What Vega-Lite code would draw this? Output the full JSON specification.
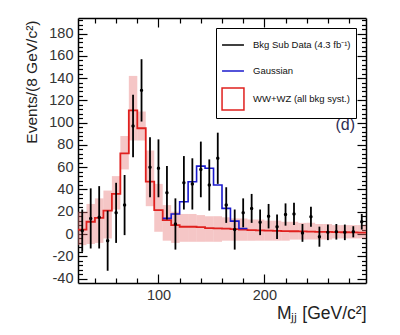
{
  "$schema": "https://vega.github.io/schema/vega-lite/v6.json",
  "width": 288,
  "height": 265,
  "autosize": {"type": "none"},
  "padding": {"left": 78, "top": 18, "right": 34, "bottom": 52},
  "background": "white",
  "config": {
    "view": {"stroke": null},
    "font": "Liberation Sans",
    "axis": {
      "grid": false,
      "domainColor": "black",
      "domainWidth": 1.5,
      "tickColor": "black",
      "tickWidth": 1.2,
      "labelFont": "Liberation Sans",
      "labelFontSize": 14.5,
      "labelColor": "#333333",
      "titleFont": "Liberation Sans",
      "titleFontWeight": "normal",
      "titleColor": "#222222"
    }
  },
  "datasets": {
    "pts": [
      {"x": 28, "y": 3, "lo": -16, "hi": 22},
      {"x": 36, "y": 14, "lo": -13, "hi": 41},
      {"x": 44, "y": 15, "lo": -13, "hi": 43},
      {"x": 52, "y": -6, "lo": -33, "hi": 21},
      {"x": 60, "y": 19, "lo": -8, "hi": 46},
      {"x": 68, "y": 26, "lo": -1, "hi": 53},
      {"x": 76, "y": 97, "lo": 69, "hi": 125},
      {"x": 84, "y": 129, "lo": 101, "hi": 157},
      {"x": 92, "y": 60, "lo": 33, "hi": 87},
      {"x": 100, "y": 59, "lo": 33, "hi": 85},
      {"x": 108, "y": 37, "lo": 13, "hi": 61},
      {"x": 116, "y": 9, "lo": -14, "hi": 32},
      {"x": 124, "y": 46, "lo": 22, "hi": 70},
      {"x": 132, "y": 45, "lo": 22, "hi": 68},
      {"x": 140, "y": 58, "lo": 33, "hi": 83},
      {"x": 148, "y": 44, "lo": 21, "hi": 67},
      {"x": 156, "y": 68, "lo": 45, "hi": 91},
      {"x": 164, "y": 26, "lo": 10, "hi": 42},
      {"x": 172, "y": 4, "lo": -14, "hi": 22},
      {"x": 180, "y": 19, "lo": 6, "hi": 32},
      {"x": 188, "y": 23, "lo": 10, "hi": 36},
      {"x": 196, "y": 10.5, "lo": -1, "hi": 22},
      {"x": 204, "y": 16, "lo": 5, "hi": 27},
      {"x": 212, "y": 6.5, "lo": -4.5, "hi": 17.5},
      {"x": 220, "y": 17.5, "lo": 7.5, "hi": 27.5},
      {"x": 228, "y": 18, "lo": 8, "hi": 28},
      {"x": 236, "y": 1, "lo": -7, "hi": 9},
      {"x": 244, "y": 15.5, "lo": 6.5, "hi": 24.5},
      {"x": 252, "y": -2.4, "lo": -11.4, "hi": 6.6},
      {"x": 260, "y": 1.5, "lo": -5.5, "hi": 8.5},
      {"x": 268, "y": 2, "lo": -5, "hi": 9},
      {"x": 276, "y": 1.5, "lo": -5.5, "hi": 8.5},
      {"x": 284, "y": 2, "lo": -3, "hi": 7},
      {"x": 292, "y": 11, "lo": 4, "hi": 18}
    ],
    "red": [
      {"x": 24, "y": 4}, {"x": 32, "y": 11}, {"x": 40, "y": 14.5}, {"x": 48, "y": 21},
      {"x": 56, "y": 36}, {"x": 64, "y": 72.5}, {"x": 72, "y": 111}, {"x": 80, "y": 95},
      {"x": 88, "y": 47}, {"x": 96, "y": 21.5}, {"x": 104, "y": 12.5}, {"x": 112, "y": 8},
      {"x": 120, "y": 6.5}, {"x": 128, "y": 6.5}, {"x": 136, "y": 6.2}, {"x": 144, "y": 5.2},
      {"x": 152, "y": 5}, {"x": 160, "y": 4.8}, {"x": 168, "y": 4.3}, {"x": 176, "y": 3.9},
      {"x": 184, "y": 3.5}, {"x": 192, "y": 3.2}, {"x": 200, "y": 3}, {"x": 208, "y": 2.8},
      {"x": 216, "y": 2.6}, {"x": 224, "y": 2.5}, {"x": 232, "y": 2.3}, {"x": 240, "y": 2.2},
      {"x": 248, "y": 2}, {"x": 256, "y": 1.9}, {"x": 264, "y": 1.7}, {"x": 272, "y": 1.6},
      {"x": 280, "y": 1.5}, {"x": 288, "y": 1.3}, {"x": 296, "y": 1.3}
    ],
    "band": [
      {"x0": 24, "x1": 32, "lo": -10, "hi": 20, "s": "WW+WZ (all bkg syst.)"},
      {"x0": 32, "x1": 40, "lo": -9, "hi": 27, "s": "WW+WZ (all bkg syst.)"},
      {"x0": 40, "x1": 48, "lo": -8, "hi": 32, "s": "WW+WZ (all bkg syst.)"},
      {"x0": 48, "x1": 56, "lo": -4, "hi": 39, "s": "WW+WZ (all bkg syst.)"},
      {"x0": 56, "x1": 64, "lo": 22, "hi": 52, "s": "WW+WZ (all bkg syst.)"},
      {"x0": 64, "x1": 72, "lo": 58, "hi": 88, "s": "WW+WZ (all bkg syst.)"},
      {"x0": 72, "x1": 80, "lo": 84, "hi": 142, "s": "WW+WZ (all bkg syst.)"},
      {"x0": 80, "x1": 88, "lo": 84, "hi": 110, "s": "WW+WZ (all bkg syst.)"},
      {"x0": 88, "x1": 96, "lo": 25, "hi": 75, "s": "WW+WZ (all bkg syst.)"},
      {"x0": 96, "x1": 104, "lo": 2, "hi": 45, "s": "WW+WZ (all bkg syst.)"},
      {"x0": 104, "x1": 112, "lo": -6, "hi": 26, "s": "WW+WZ (all bkg syst.)"},
      {"x0": 112, "x1": 120, "lo": -8, "hi": 20, "s": "WW+WZ (all bkg syst.)"},
      {"x0": 120, "x1": 128, "lo": -7, "hi": 18, "s": "WW+WZ (all bkg syst.)"},
      {"x0": 128, "x1": 136, "lo": -7, "hi": 18, "s": "WW+WZ (all bkg syst.)"},
      {"x0": 136, "x1": 144, "lo": -7, "hi": 17, "s": "WW+WZ (all bkg syst.)"},
      {"x0": 144, "x1": 152, "lo": -7, "hi": 16, "s": "WW+WZ (all bkg syst.)"},
      {"x0": 152, "x1": 160, "lo": -7, "hi": 16, "s": "WW+WZ (all bkg syst.)"},
      {"x0": 160, "x1": 168, "lo": -6, "hi": 15, "s": "WW+WZ (all bkg syst.)"},
      {"x0": 168, "x1": 176, "lo": -6, "hi": 14, "s": "WW+WZ (all bkg syst.)"},
      {"x0": 176, "x1": 184, "lo": -6, "hi": 14, "s": "WW+WZ (all bkg syst.)"},
      {"x0": 184, "x1": 192, "lo": -6, "hi": 13, "s": "WW+WZ (all bkg syst.)"},
      {"x0": 192, "x1": 200, "lo": -6, "hi": 13, "s": "WW+WZ (all bkg syst.)"},
      {"x0": 200, "x1": 208, "lo": -6, "hi": 12, "s": "WW+WZ (all bkg syst.)"},
      {"x0": 208, "x1": 216, "lo": -6, "hi": 12, "s": "WW+WZ (all bkg syst.)"},
      {"x0": 216, "x1": 224, "lo": -6, "hi": 11, "s": "WW+WZ (all bkg syst.)"},
      {"x0": 224, "x1": 232, "lo": -5, "hi": 11, "s": "WW+WZ (all bkg syst.)"},
      {"x0": 232, "x1": 240, "lo": -5, "hi": 10, "s": "WW+WZ (all bkg syst.)"},
      {"x0": 240, "x1": 248, "lo": -5, "hi": 10, "s": "WW+WZ (all bkg syst.)"},
      {"x0": 248, "x1": 256, "lo": -5, "hi": 9, "s": "WW+WZ (all bkg syst.)"},
      {"x0": 256, "x1": 264, "lo": -5, "hi": 9, "s": "WW+WZ (all bkg syst.)"},
      {"x0": 264, "x1": 272, "lo": -4, "hi": 8, "s": "WW+WZ (all bkg syst.)"},
      {"x0": 272, "x1": 280, "lo": -4, "hi": 8, "s": "WW+WZ (all bkg syst.)"},
      {"x0": 280, "x1": 288, "lo": -4, "hi": 8, "s": "WW+WZ (all bkg syst.)"},
      {"x0": 288, "x1": 296, "lo": -4, "hi": 8, "s": "WW+WZ (all bkg syst.)"}
    ],
    "blue": [
      {"x": 104, "y": 14}, {"x": 112, "y": 18},
      {"x": 120, "y": 29}, {"x": 128, "y": 47},
      {"x": 136, "y": 61}, {"x": 144, "y": 59},
      {"x": 152, "y": 44}, {"x": 160, "y": 23},
      {"x": 168, "y": 11.6}, {"x": 176, "y": 5},
      {"x": 184, "y": 5}
    ],
    "lab": [{"x": 285.6, "y": 97.7, "t": "(d)"}]
  },
  "resolve": {"axis": {"x": "independent", "y": "independent"}},
  "layer": [
    {
      "data": {"name": "band"},
      "mark": {"type": "rect", "opacity": 0.42, "color": "#e87878"},
      "encoding": {
        "x": {
          "field": "x0", "type": "quantitative",
          "scale": {"domain": [24, 296], "nice": false, "zero": false},
          "axis": {
            "orient": "bottom",
            "values": [40, 60, 80, 100, 120, 140, 160, 180, 200, 220, 240, 260, 280],
            "labelExpr": "datum.value % 100 === 0 ? datum.label : ''",
            "tickSize": {"condition": {"test": "datum.value % 100 === 0", "value": -9}, "value": -5},
            "labelPadding": 14,
            "title": "Mⱼⱼ [GeV/c²]",
            "titleFontSize": 17.5,
            "titleAnchor": "end",
            "titleAlign": "right",
            "titleX": 288,
            "titleY": 35,
            "titleBaseline": "alphabetic"
          }
        },
        "x2": {"field": "x1"},
        "y": {
          "field": "lo", "type": "quantitative",
          "scale": {"domain": [-44, 194], "nice": false, "zero": false},
          "axis": {
            "orient": "left",
            "values": [-40, -36, -32, -28, -24, -20, -16, -12, -8, -4, 0, 4, 8, 12, 16, 20, 24, 28, 32, 36, 40, 44, 48, 52, 56, 60, 64, 68, 72, 76, 80, 84, 88, 92, 96, 100, 104, 108, 112, 116, 120, 124, 128, 132, 136, 140, 144, 148, 152, 156, 160, 164, 168, 172, 176, 180, 184, 188, 192],
            "labelExpr": "datum.value % 20 === 0 ? toString(datum.value) : ''",
            "tickSize": {"condition": {"test": "datum.value % 20 === 0", "value": -9}, "value": -4.5},
            "labelPadding": 14,
            "labelFlush": false,
            "labelOverlap": false,
            "title": "Events/(8 GeV/c²)",
            "titleFontSize": 15.5,
            "titleAngle": 270,
            "titleAlign": "right",
            "titleBaseline": "alphabetic",
            "titleX": -42,
            "titleY": 2
          }
        },
        "y2": {"field": "hi"}
      }
    },
    {
      "data": {"name": "red"},
      "mark": {"type": "line", "interpolate": "step-after", "color": "#e0201e", "strokeWidth": 1.8},
      "encoding": {
        "x": {"field": "x", "type": "quantitative", "axis": null},
        "y": {"field": "y", "type": "quantitative", "axis": null}
      }
    },
    {
      "data": {"name": "blue"},
      "mark": {"type": "line", "interpolate": "step-after", "strokeWidth": 1.6, "color": "#1a1acc"},
      "encoding": {
        "x": {"field": "x", "type": "quantitative", "axis": null},
        "y": {"field": "y", "type": "quantitative", "axis": null}
      }
    },
    {
      "data": {"name": "pts"},
      "mark": {"type": "rule", "strokeWidth": 1.8, "color": "black"},
      "encoding": {
        "x": {"field": "x", "type": "quantitative", "axis": null},
        "y": {"field": "lo", "type": "quantitative", "axis": null},
        "y2": {"field": "hi"}
      }
    },
    {
      "data": {"name": "pts"},
      "mark": {"type": "point", "filled": true, "size": 12, "opacity": 1, "color": "black"},
      "encoding": {
        "x": {"field": "x", "type": "quantitative", "axis": null},
        "y": {"field": "y", "type": "quantitative", "axis": null}
      }
    },
    {
      "data": {"name": "band"},
      "mark": {"type": "point", "opacity": 0, "strokeWidth": 1.5},
      "encoding": {
        "x": {"field": "x0", "type": "quantitative", "axis": null},
        "y": {"field": "lo", "type": "quantitative", "axis": null},
        "stroke": {
          "field": "s", "type": "nominal",
          "scale": {
            "domain": ["Bkg Sub Data (4.3 fb⁻¹)", "Gaussian", "WW+WZ (all bkg syst.)"],
            "range": ["#000000", "#1a1acc", "#e0201e"]
          },
          "legend": {
            "orient": "none",
            "legendX": 138,
            "legendY": 10,
            "title": null,
            "strokeColor": "black",
            "fillColor": "white",
            "padding": 5,
            "rowPadding": 9,
            "symbolSize": 480,
            "symbolStrokeWidth": 1.5,
            "symbolOpacity": 1,
            "symbolFillColor": "#f3b0b0",
            "labelFont": "Liberation Sans",
            "labelFontSize": 9.5,
            "labelColor": "#111111",
            "labelOffset": 8
          }
        },
        "shape": {
          "field": "s", "type": "nominal",
          "scale": {
            "domain": ["Bkg Sub Data (4.3 fb⁻¹)", "Gaussian", "WW+WZ (all bkg syst.)"],
            "range": ["stroke", "stroke", "square"]
          }
        }
      }
    },
    {
      "data": {"name": "lab"},
      "mark": {"type": "text", "align": "right", "baseline": "middle", "fontSize": 16, "font": "Liberation Sans", "color": "#2e2e55"},
      "encoding": {
        "x": {
          "field": "x", "type": "quantitative",
          "axis": {
            "orient": "top",
            "values": [40, 60, 80, 100, 120, 140, 160, 180, 200, 220, 240, 260, 280],
            "labels": false,
            "title": null,
            "tickSize": {"condition": {"test": "datum.value % 100 === 0", "value": -9}, "value": -5}
          }
        },
        "y": {
          "field": "y", "type": "quantitative",
          "axis": {
            "orient": "right",
            "values": [-40, -36, -32, -28, -24, -20, -16, -12, -8, -4, 0, 4, 8, 12, 16, 20, 24, 28, 32, 36, 40, 44, 48, 52, 56, 60, 64, 68, 72, 76, 80, 84, 88, 92, 96, 100, 104, 108, 112, 116, 120, 124, 128, 132, 136, 140, 144, 148, 152, 156, 160, 164, 168, 172, 176, 180, 184, 188, 192],
            "labels": false,
            "title": null,
            "tickSize": {"condition": {"test": "datum.value % 20 === 0", "value": -9}, "value": -4.5}
          }
        },
        "text": {"field": "t"}
      }
    }
  ]
}
